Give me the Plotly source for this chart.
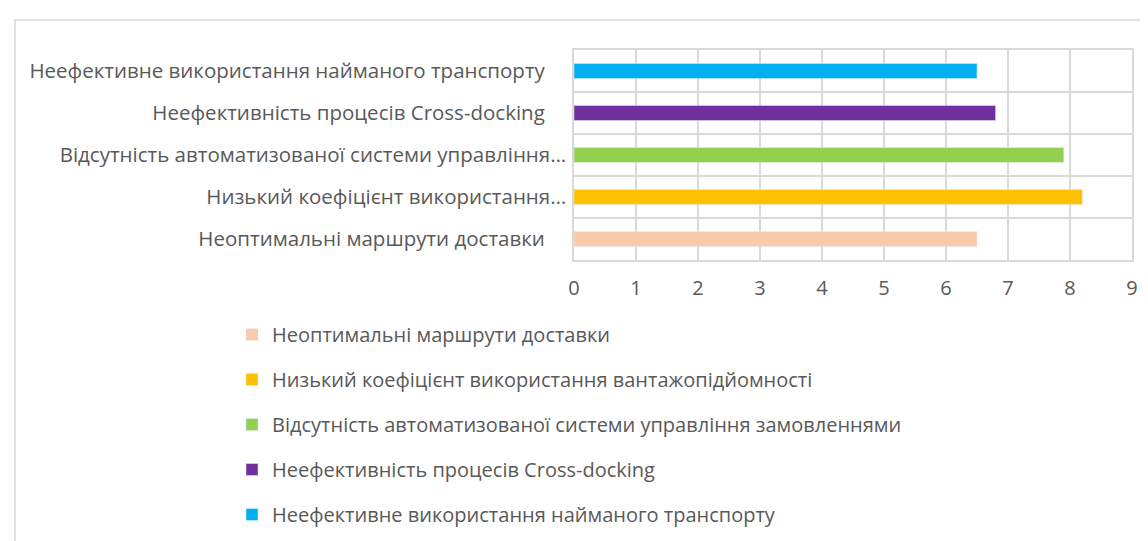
import plotly.graph_objects as go

categories = [
    "Неоптимальні маршрути доставки",
    "Низький коефіцієнт використання вантажопідйомності",
    "Відсутність автоматизованої системи управління замовленнями",
    "Неефективність процесів Cross-docking",
    "Неефективне використання найманого транспорту",
]
axis_labels = [
    "Неоптимальні маршрути доставки",
    "Низький коефіцієнт використання…",
    "Відсутність автоматизованої системи управління…",
    "Неефективність процесів Cross-docking",
    "Неефективне використання найманого транспорту",
]
values = [6.5, 8.2, 7.9, 6.8, 6.5]
colors = ["#F8CBAD", "#FFC000", "#92D050", "#7030A0", "#00B0F0"]
x_ticks = list(range(0, 10))

W, H = 1148, 541
L, R, T, B = 566, 1124, 42, 252
grid = "#D9D9D9"
txt = "#595959"
font = "Open Sans"


def px(v):
    return (v - L) / (R - L)


def py(v):
    return (B - v) / (B - T)


fig = go.Figure()
for i, (cat, val, col) in enumerate(zip(categories, values, colors)):
    fig.add_trace(go.Bar(
        x=[val], y=[cat], orientation="h", name=cat, marker_color=col,
        width=0.36, legendgroup=f"g{i}",
    ))

# pad the untruncated labels so they sit off the axis like the original
ticktext = [t if t.endswith("…") else t + "\u00a0" * 4 for t in axis_labels]

fig.update_layout(
    width=W, height=H,
    margin=dict(l=L, r=W - R, t=T, b=H - B, autoexpand=False),
    paper_bgcolor="white", plot_bgcolor="white",
    barmode="overlay",
    font=dict(family=font, size=20, color=txt),
    showlegend=True,
    legend=dict(
        orientation="v", xref="container", yref="container",
        x=224 / W, y=1 - 307 / H, xanchor="left", yanchor="top",
        traceorder="grouped", tracegroupgap=16,
        font=dict(family=font, size=20, color=txt),
        bgcolor="rgba(0,0,0,0)",
    ),
    xaxis=dict(
        range=[0, 9], tickvals=x_ticks, showgrid=True, gridcolor=grid, gridwidth=1.5,
        showline=True, linecolor=grid, linewidth=1.5, mirror=True, zeroline=False,
        ticks="", ticklabelstandoff=9, tickfont=dict(size=20, color=txt),
    ),
    yaxis=dict(
        categoryorder="array", categoryarray=categories,
        tickvals=categories, ticktext=ticktext,
        tickson="boundaries", showgrid=True, gridcolor=grid, gridwidth=1.5,
        showline=True, linecolor=grid, linewidth=1.5, mirror=True,
        ticks="", ticklabelstandoff=2, tickfont=dict(size=20.5, color=txt),
    ),
    shapes=[dict(
        type="rect", xref="paper", yref="paper",
        x0=px(7), x1=px(1160), y0=py(560), y1=py(12),
        line=dict(color=grid, width=1.5), layer="below",
    )],
)

fig.write_html("out.html")
